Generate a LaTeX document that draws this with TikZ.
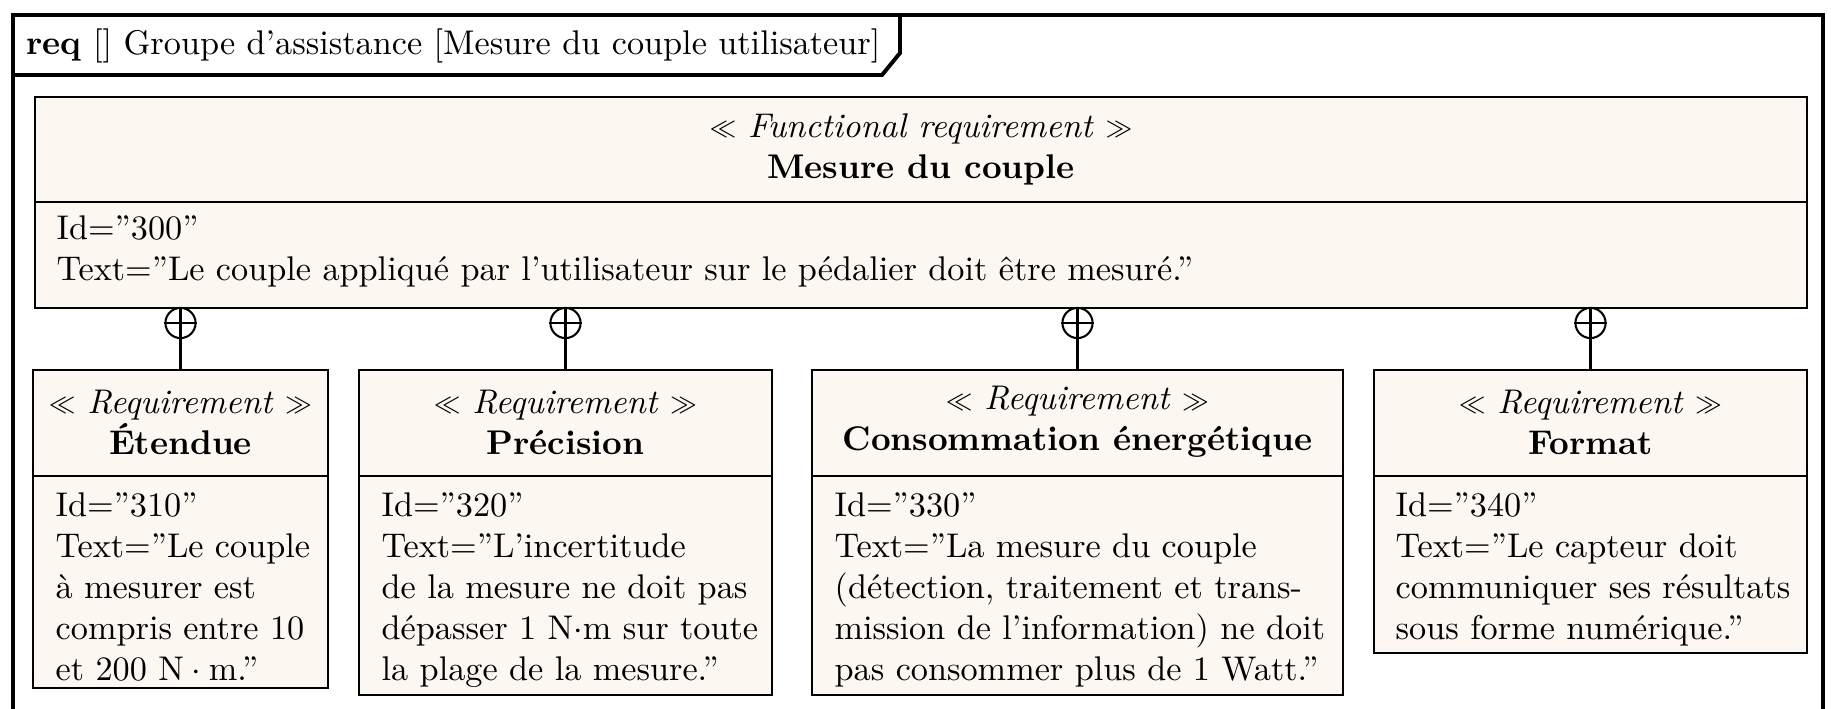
\documentclass[tikz,border=0pt]{standalone}
\usetikzlibrary{fit}
\definecolor{reqfill}{RGB}{253,247,241}
\newcommand{\stlt}{\raisebox{0.4pt}{$\scriptstyle\ll$}}
\newcommand{\stgt}{\raisebox{0.4pt}{$\scriptstyle\gg$}}
\begin{document}
\begin{tikzpicture}[x=0.292pt,y=-0.292pt,
  framestyle/.style={line width=1.15pt,line join=miter},
  boxstyle/.style={draw,line width=0.8pt,fill=reqfill,inner sep=0pt},
  sepline/.style={line width=0.6pt},
  headtext/.style={align=center,inner sep=0pt},
  bodytext/.style={align=left,anchor=north west,inner sep=0pt},
  containment/.style={circle,draw,line width=0.6pt,minimum size=8.8pt,inner sep=0pt,fill=white},
  conn/.style={line width=0.6pt}]
\useasboundingbox[fill=white] (0,0) rectangle (1831,709);
% frame
\draw[framestyle] (13,725) -- (13,15) -- (1823,15) -- (1823,725);
\draw[framestyle] (13,75) -- (882,75) -- (900,53) -- (900,15);
\node[anchor=base west,inner sep=0pt] (title) at (26,54)
  {\textbf{req} [] Groupe d'assistance [Mesure du couple utilisateur]};
% main requirement
\node[boxstyle,fit={(35,97) (1807,308)}] (main) {};
\draw[sepline] (35,202) -- (1807,202);
\node[headtext] (mainh) at (921,149) {\stlt{} \textit{Functional requirement} \stgt\\\textbf{Mesure du couple}};
\node[bodytext] (mainb) at (56,215) {Id=''300''\\Text=''Le couple appliqué par l'utilisateur sur le pédalier doit être mesuré.''};
% requirement 1
\node[boxstyle,fit={(33,370) (328,688)}] (r1) {};
\draw[sepline] (33,476) -- (328,476);
\node[headtext] (r1h) at (180.5,422) {\stlt{} \textit{Requirement} \stgt\\\textbf{Étendue}};
\node[bodytext] (r1b) at (55,492) {Id=''310''\\Text=''Le couple\\à mesurer est\\compris entre 10\\et 200 $\mathrm{N}\cdot\mathrm{m}$.''};
% requirement 2
\node[boxstyle,fit={(359,370) (772,695)}] (r2) {};
\draw[sepline] (359,476) -- (772,476);
\node[headtext] (r2h) at (565.5,422) {\stlt{} \textit{Requirement} \stgt\\\textbf{Précision}};
\node[bodytext] (r2b) at (381,492) {Id=''320''\\Text=''L'incertitude\\de la mesure ne doit pas\\dépasser 1 N$\cdot$m sur toute\\la plage de la mesure.''};
% requirement 3
\node[boxstyle,fit={(812,370) (1343,695)}] (r3) {};
\draw[sepline] (812,476) -- (1343,476);
\node[headtext] (r3h) at (1077.5,422) {\stlt{} \textit{Requirement} \stgt\\\textbf{Consommation énergétique}};
\node[bodytext] (r3b) at (834,492) {Id=''330''\\Text=''La mesure du couple\\(détection, traitement et trans-\\mission de l'information) ne doit\\pas consommer plus de 1 Watt.''};
% requirement 4
\node[boxstyle,fit={(1374,370) (1807,653)}] (r4) {};
\draw[sepline] (1374,476) -- (1807,476);
\node[headtext] (r4h) at (1590.5,422) {\stlt{} \textit{Requirement} \stgt\\\textbf{Format}};
\node[bodytext] (r4b) at (1395,492) {Id=''340''\\Text=''Le capteur doit\\communiquer ses résultats\\sous forme numérique.''};
% containment connectors
\foreach \i/\cx in {1/180.5,2/565.5,3/1077.5,4/1590.5}{
  \node[containment] (c\i) at (\cx,323) {};
  \draw[conn] (c\i.north) -- (c\i.south);
  \draw[conn] (c\i.west) -- (c\i.east);
  \draw[conn] (c\i.south) -- (r\i.north);
}
\end{tikzpicture}
\end{document}
